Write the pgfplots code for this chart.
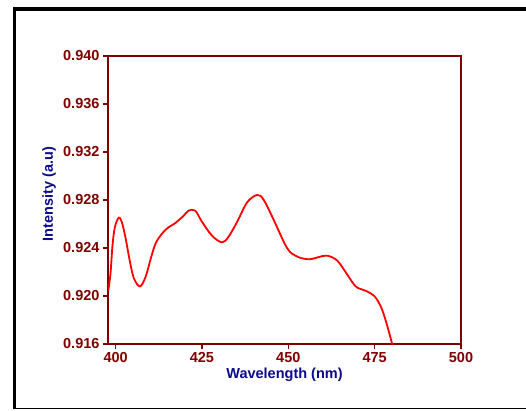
\documentclass[border=0pt]{standalone}
\usepackage{pgfplots}
\pgfplotsset{compat=1.18}
\usepackage{fontspec}
\setmainfont{Liberation Sans}
\definecolor{axred}{RGB}{128,0,0}
\definecolor{labnavy}{RGB}{10,10,140}
\begin{document}
\begin{tikzpicture}[x=1pt,y=1pt]
\useasboundingbox (0,0) rectangle (526,410);
\draw[line width=4pt] (13,401) -- (526,401);
\draw[line width=3pt] (14.5,403) -- (14.5,1.5);
\draw[line width=1.5pt] (13,1.5) -- (526,1.5);
\begin{axis}[
  at={(108pt,66pt)}, anchor=south west,
  width=353pt, height=288pt, scale only axis,
  xmin=397.8, xmax=500, ymin=0.916, ymax=0.940,
  xtick={400,425,450,475,500},
  ytick={0.916,0.920,0.924,0.928,0.932,0.936,0.940},
  yticklabel style={/pgf/number format/.cd,fixed,fixed zerofill,precision=3},
  /pgf/number format/assume math mode=true,
  scaled y ticks=false,
  axis line style={axred, line width=2pt},
  every tick/.style={axred, line width=1.5pt},
  tick align=outside, major tick length=5pt,
  xtick pos=bottom, ytick pos=left,
  tick label style={font=\fontsize{14.5}{16}\selectfont\bfseries, text=axred},
  xlabel={Wavelength (nm)}, ylabel={Intensity (a.u)},
  label style={font=\fontsize{14.5}{16}\selectfont\bfseries, text=labnavy},
  x label style={at={(axis description cs:0.5,-0.108)}, anchor=center},
  y label style={at={(axis description cs:-0.167,0.52)}, anchor=center, rotate=0},
  clip=true,
]
\addplot[red, line width=1.8pt, smooth, tension=0.55] coordinates {
(397.85,0.92040) (398.5,0.92180) (399.1,0.92420) (399.8,0.92575) (400.96,0.92653) (401.9,0.92606)
(402.9,0.92481) (404.15,0.92286) (405.3,0.92147) (407.06,0.92080) (408.7,0.92161) (410.2,0.92314)
(411.6,0.92439) (413.5,0.92522) (415.3,0.92572) (417.2,0.92606) (419.65,0.92667) (421.1,0.92711) (423.05,0.92711)
(425.0,0.92619) (427.9,0.92503) (430.8,0.92447) (432.7,0.92494) (435.2,0.92619) (438.1,0.92781)
(441.0,0.92842) (442.9,0.92800) (445.8,0.92633) (449.7,0.92397) (452.6,0.92328) (456.0,0.92306)
(458.9,0.92325) (461.3,0.92336) (464.2,0.92294) (467.15,0.92175) (469.6,0.92078) (472.5,0.92042)
(474.9,0.92000) (476.8,0.91911) (478.3,0.91786) (479.9,0.91619) (480.1,0.91600)
};
\end{axis}
\end{tikzpicture}
\end{document}
